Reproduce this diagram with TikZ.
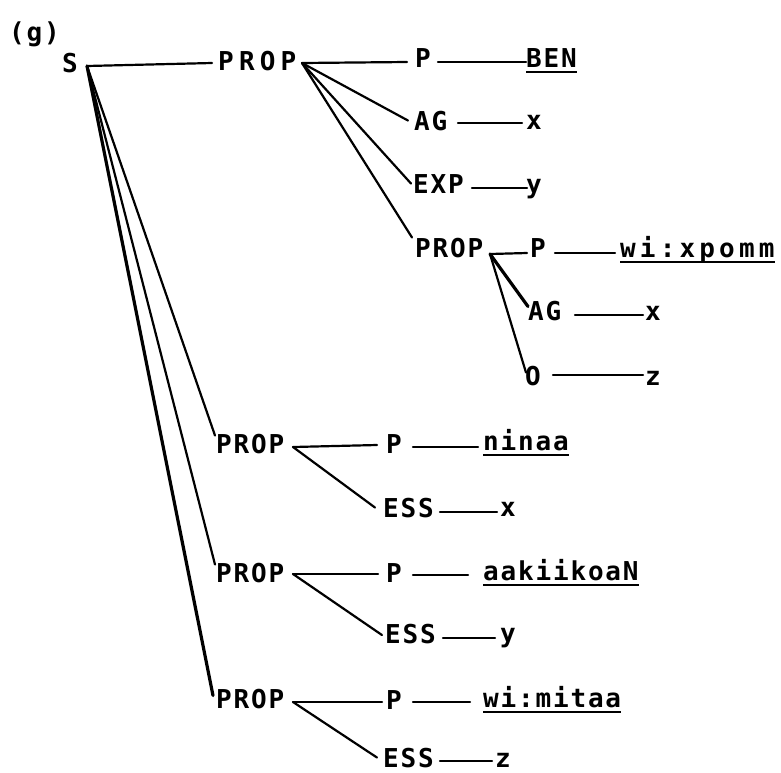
\documentclass[tikz,border=0pt]{standalone}
\usepackage{fontspec}
\newfontfamily\lab[LetterSpace=7]{DejaVu Sans Mono Bold}
\newfontfamily\labw[LetterSpace=20]{DejaVu Sans Mono Bold}
\newfontfamily\labm[LetterSpace=16]{DejaVu Sans Mono Bold}
\begin{document}
\begin{tikzpicture}[x=1pt,y=-1pt,
  lbl/.style={font={\lab\fontsize{26}{30}\selectfont}, inner sep=0pt, anchor=base west},
  wlbl/.style={lbl, font={\labw\fontsize{26}{30}\selectfont}},
  mlbl/.style={lbl, font={\labm\fontsize{26}{30}\selectfont}},
  edge/.style={line width=2.2pt, line cap=round},
  thickedge/.style={line width=3.2pt, line cap=round},
  ul/.style={line width=2.4pt}]
\useasboundingbox (0,0) rectangle (781,772);
% labels
\node[lbl] (g) at (9,41) {(g)};
\node[lbl] (S) at (62,72) {S};
\node[wlbl] (prop1) at (218,70) {PROP};
\node[lbl] (p1) at (415,67) {P};
\node[lbl] (ben) at (526,67) {BEN};
\node[lbl] (ag1) at (414,130) {AG};
\node[lbl] (x1) at (526,129) {x};
\node[lbl] (exp) at (413,193) {EXP};
\node[lbl] (y1) at (526,193) {y};
\node[lbl] (prop2) at (415,257) {PROP};
\node[lbl] (p2) at (530,257) {P};
\node[mlbl] (w1) at (620,257) {wi:xpomm};
\node[lbl] (ag2) at (528,320) {AG};
\node[lbl] (x2) at (645,320) {x};
\node[lbl] (o) at (525,385) {O};
\node[lbl] (z1) at (645,385) {z};
\node[lbl] (prop3) at (216,453) {PROP};
\node[lbl] (p3) at (386,453) {P};
\node[lbl] (ninaa) at (483,450) {ninaa};
\node[lbl] (ess1) at (383,517) {ESS};
\node[lbl] (x3) at (500,516) {x};
\node[lbl] (prop4) at (216,582) {PROP};
\node[lbl] (p4) at (386,582) {P};
\node[lbl] (aak) at (483,580) {aakiikoaN};
\node[lbl] (ess2) at (385,643) {ESS};
\node[lbl] (y2) at (500,642) {y};
\node[lbl] (prop5) at (216,708) {PROP};
\node[lbl] (p5) at (386,709) {P};
\node[lbl] (wim) at (483,707) {wi:mitaa};
\node[lbl] (ess3) at (383,767) {ESS};
\node[lbl] (z3) at (495,767) {z};
% junctions
\coordinate (sj) at (87,66);
\coordinate (pj) at (302,63);
\coordinate (p2j) at (490,254);
\coordinate (p3j) at (293,447);
\coordinate (p4j) at (293,574);
\coordinate (p5j) at (293,702);
% S fan
\draw[edge] (sj) -- ([xshift=-6pt,yshift=7pt]prop1.base west);
\draw[edge] (sj) -- ([xshift=-1pt,yshift=-2pt]prop3.north west);
\draw[edge] (sj) -- ([xshift=-1pt,yshift=-2pt]prop4.north west);
\draw[thickedge] (sj) -- ([xshift=-3pt,yshift=3pt]prop5.west);
% PROP1
\draw[edge] (pj) -- ([xshift=-8pt,yshift=5pt]p1.base west);
\draw[edge] (pj) -- ([xshift=-6pt]ag1.west);
\draw[edge] (pj) -- ([xshift=-2pt]exp.west);
\draw[edge] (pj) -- ([xshift=-3pt]prop2.north west);
\draw[edge] ([xshift=23pt,yshift=5pt]p1.base west) -- ([yshift=5pt]ben.base west);
\draw[edge] ([xshift=44pt,yshift=7pt]ag1.base west) -- ([xshift=-4pt,yshift=6pt]x1.base west);
\draw[edge] ([xshift=59pt,yshift=5pt]exp.base west) -- ([xshift=1pt,yshift=5pt]y1.base west);
% PROP2
\draw[edge] (p2j) -- ([xshift=-3pt,yshift=4pt]p2.base west);
\draw[thickedge] (p2j) -- ([yshift=-6pt]ag2.north west);
\draw[edge] (p2j) -- ([xshift=1pt,yshift=3pt]o.west);
\draw[edge] ([xshift=25pt,yshift=4pt]p2.base west) -- ([xshift=-5pt,yshift=4pt]w1.base west);
\draw[edge] ([xshift=47pt,yshift=5pt]ag2.base west) -- ([xshift=-2pt,yshift=5pt]x2.base west);
\draw[edge] ([xshift=28pt,yshift=10pt]o.base west) -- ([xshift=-2pt,yshift=10pt]z1.base west);
% PROP3
\draw[edge] (p3j) -- ([xshift=-9pt,yshift=8pt]p3.base west);
\draw[edge] (p3j) -- ([xshift=-8pt]ess1.west);
\draw[edge] ([xshift=27pt,yshift=6pt]p3.base west) -- ([xshift=-5pt,yshift=3pt]ninaa.base west);
\draw[edge] ([xshift=57pt,yshift=5pt]ess1.base west) -- ([xshift=-3pt,yshift=4pt]x3.base west);
% PROP4
\draw[edge] (p4j) -- ([xshift=-8pt,yshift=8pt]p4.base west);
\draw[edge] (p4j) -- ([xshift=-3pt,yshift=-1.5pt]ess2.west);
\draw[edge] ([xshift=27pt,yshift=7pt]p4.base west) -- ([xshift=-15pt,yshift=5pt]aak.base west);
\draw[edge] ([xshift=58pt,yshift=5pt]ess2.base west) -- ([xshift=-5pt,yshift=4pt]y2.base west);
% PROP5
\draw[edge] (p5j) -- ([xshift=-4pt,yshift=7pt]p5.base west);
\draw[edge] (p5j) -- ([xshift=-6pt]ess3.west);
\draw[edge] ([xshift=27pt,yshift=7pt]p5.base west) -- ([xshift=-13pt,yshift=5pt]wim.base west);
\draw[edge] ([xshift=57pt,yshift=6pt]ess3.base west) -- ([xshift=-3pt,yshift=6pt]z3.base west);
% underlines
\foreach \n in {ben,w1,ninaa,aak,wim}
  \draw[ul] ([yshift=-5pt]\n.base west) -- ([yshift=-5pt]\n.base east);
\end{tikzpicture}
\end{document}
